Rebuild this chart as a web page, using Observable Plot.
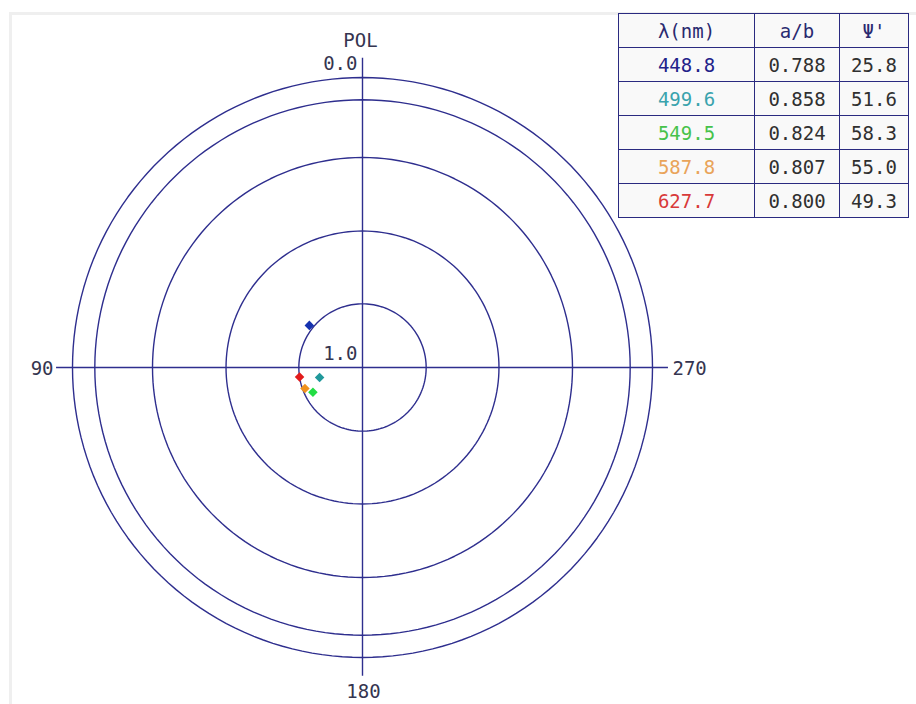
<!DOCTYPE html>
<html>
<head>
<meta charset="utf-8">
<script src="https://cdn.jsdelivr.net/npm/d3@7"></script>
<script src="https://cdn.jsdelivr.net/npm/@observablehq/plot@0.6"></script>
<style>
  html, body { margin: 0; padding: 0; background: #ffffff; }
  #wrap { position: relative; width: 916px; height: 704px; overflow: hidden; background: #ffffff; }
  #frame { position: absolute; left: 9px; top: 12px; width: 920px; height: 720px; border-left: 3px solid #efefef; border-top: 3px solid #efefef; }
  #chart { position: absolute; left: 0; top: 0; }
  table { position: absolute; left: 618px; top: 13px; border-collapse: collapse; font-family: "DejaVu Sans Mono", "Liberation Mono", monospace; font-size: 19px; background: #f9f9f9; }
  td, th { border: 1.5px solid #2a2a80; height: 33px; padding: 0; text-align: center; font-weight: normal; color: #303030; }
  th { color: #2a2a70; }
</style>
</head>
<body>
<div id="wrap">
  <div id="frame"></div>
  <div id="chart"></div>
  <table id="tbl"></table>
</div>
<script>
// ---- data ----
const wavelengths = ["448.8", "499.6", "549.5", "587.8", "627.7"];
const ratios = [0.788, 0.858, 0.824, 0.807, 0.800];   // a/b
const psi = [25.8, 51.6, 58.3, 55.0, 49.3];           // Ψ' (deg)
const pointColors = ["#1532b0", "#21999b", "#22dd44", "#f0921e", "#e21b1b"];
const textColors = ["#22228a", "#3aa3ad", "#46c24a", "#e9a45a", "#d83a3a"];
const ringRatios = [0.8, 0.6, 0.4, 0.2, 0.0];         // a/b circles
const ringLabels = ["0.0", "1.0"];
const ringLabelValues = [0.0, 1.0];
const axisAngles = [90, 180, 270];
const axisLabels = ["90", "180", "270"];
const headers = ["λ(nm)", "a/b", "Ψ'"];

// ---- helpers (Poincaré-type projection) ----
const rad = (k) => (1 - k * k) / (1 + k * k);        // radius fraction for a/b
const px = (r, deg) => -r * Math.sin(deg * Math.PI / 180);
const py = (r, deg) => r * Math.cos(deg * Math.PI / 180);

const points = wavelengths.map((w, i) => ({w, k: ratios[i], psi: psi[i], color: pointColors[i]}));
const ringPts = [];
for (const k of ringRatios) for (let a = 0; a < 360; a += 2) ringPts.push({k, a});
const axisExt = 1.055;
const axisData = axisAngles.map((a, i) => ({a, label: axisLabels[i]}));
const ringLab = ringLabels.map((t, i) => ({t, k: ringLabelValues[i]}));

const ink = "#2e2e8e";
const txt = "#353550";
const font = "DejaVu Sans Mono";

const plot = Plot.plot({
  width: 916, height: 704,
  margin: 0,
  style: {background: "transparent", fontFamily: font},
  x: {domain: [-362 / 290, 554 / 290], range: [0, 916], axis: null},
  y: {domain: [-337 / 290, 367 / 290], range: [704, 0], axis: null},
  marks: [
    Plot.line(ringPts, {x: d => px(rad(d.k), d.a), y: d => py(rad(d.k), d.a), z: "k", curve: "linear-closed", stroke: ink, strokeWidth: 1.4}),
    Plot.ruleY([0], {x1: -axisExt, x2: axisExt, stroke: ink, strokeWidth: 1.4}),
    Plot.ruleX([0], {y1: -1.065, y2: 1.066, stroke: ink, strokeWidth: 1.4}),
    Plot.text(axisData.filter(d => d.a === 90), {x: d => px(axisExt, d.a), y: d => py(axisExt, d.a), text: "label", textAnchor: "end", dx: -3, dy: 1, fontSize: 19, fill: txt, fontFamily: font}),
    Plot.text(axisData.filter(d => d.a === 270), {x: d => px(axisExt, d.a), y: d => py(axisExt, d.a), text: "label", textAnchor: "start", dx: 4, dy: 1, fontSize: 19, fill: txt, fontFamily: font}),
    Plot.text(axisData.filter(d => d.a === 180), {x: d => px(1.062, d.a), y: d => py(1.062, d.a), text: "label", dx: 1, dy: 16, fontSize: 19, fill: txt, fontFamily: font}),
    Plot.text(["POL"], {x: 0, y: 1.066, text: d => d, dx: -2, dy: -17, fontSize: 19, fill: txt, fontFamily: font}),
    Plot.text(ringLab, {x: 0, y: d => rad(d.k), text: "t", textAnchor: "end", dx: -5, dy: -14, fontSize: 19, fill: txt, fontFamily: font}),
    Plot.dot(points, {x: d => px(rad(d.k), 2 * d.psi), y: d => py(rad(d.k), 2 * d.psi), fill: "color", symbol: "diamond2", r: 4.3, stroke: "none"})
  ]
});
document.getElementById("chart").appendChild(plot);

// ---- table ----
const tbl = document.getElementById("tbl");
const colW = [135, 84, 68];
const hr = document.createElement("tr");
headers.forEach((h, j) => { const th = document.createElement("th"); th.textContent = h; th.style.width = colW[j] + "px"; hr.appendChild(th); });
tbl.appendChild(hr);
wavelengths.forEach((w, i) => {
  const tr = document.createElement("tr");
  [w, ratios[i].toFixed(3), psi[i].toFixed(1)].forEach((v, j) => {
    const td = document.createElement("td");
    td.textContent = v;
    if (j === 0) td.style.color = textColors[i];
    tr.appendChild(td);
  });
  tbl.appendChild(tr);
});
</script>
</body>
</html>
